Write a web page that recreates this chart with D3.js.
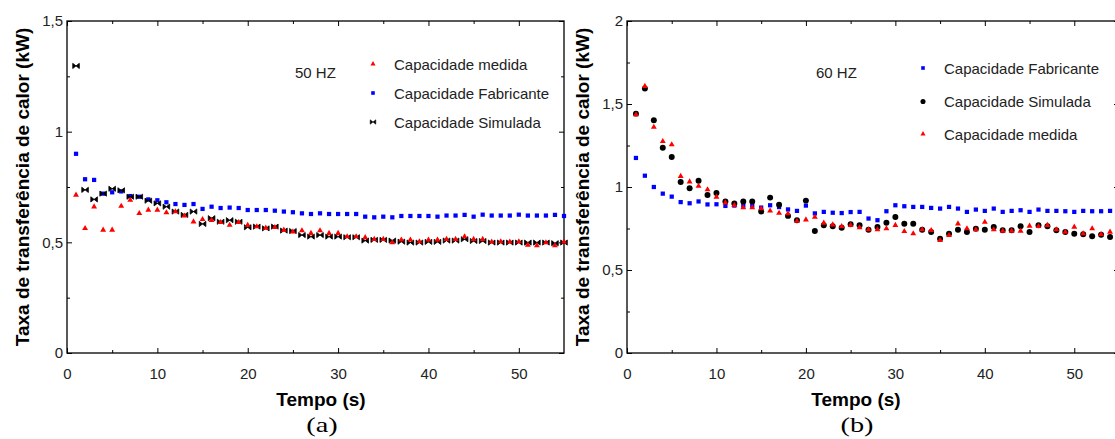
<!DOCTYPE html>
<html>
<head>
<meta charset="utf-8">
<script src="https://cdn.jsdelivr.net/npm/d3@7"></script>
<style>
  body { margin: 0; background: #fff; }
  svg { display: block; }
</style>
</head>
<body>
<svg id="chart" width="1115" height="439"></svg>
<script>
// Tempo (s)
const tempo = [1,2,3,4,5,6,7,8,9,10,11,12,13,14,15,16,17,18,19,20,
  21,22,23,24,25,26,27,28,29,30,31,32,33,34,35,36,37,38,39,40,
  41,42,43,44,45,46,47,48,49,50,51,52,53,54,55];

// 50 Hz (kW)
const medida50 = [0.714,0.563,0.661,0.556,0.556,0.664,0.691,0.631,0.646,0.646,
  0.634,0.639,0.620,0.593,0.604,0.600,0.590,0.578,0.590,0.578,
  0.571,0.565,0.568,0.556,0.548,0.553,0.541,0.553,0.541,0.541,
  0.526,0.526,0.522,0.514,0.514,0.499,0.511,0.511,0.503,0.511,
  0.511,0.514,0.514,0.526,0.514,0.514,0.502,0.503,0.502,0.503,
  0.488,0.485,0.499,0.485,0.502];
const fabricante50 = [0.900,0.785,0.782,0.720,0.726,0.730,0.709,0.706,0.694,0.690,
  0.681,0.673,0.669,0.673,0.651,0.661,0.655,0.657,0.655,0.646,
  0.646,0.646,0.643,0.639,0.636,0.631,0.628,0.631,0.628,0.628,
  0.628,0.628,0.616,0.613,0.616,0.613,0.619,0.619,0.619,0.619,
  0.616,0.621,0.621,0.624,0.616,0.625,0.621,0.621,0.621,0.625,
  0.621,0.621,0.621,0.624,0.619];
const simulada50 = [1.297,0.737,0.694,0.720,0.742,0.735,0.706,0.706,0.688,0.676,
  0.661,0.639,0.624,0.639,0.583,0.609,0.593,0.600,0.593,0.568,
  0.571,0.563,0.571,0.553,0.551,0.533,0.526,0.533,0.526,0.526,
  0.523,0.523,0.508,0.511,0.511,0.508,0.503,0.499,0.499,0.502,
  0.502,0.508,0.508,0.514,0.506,0.506,0.499,0.499,0.499,0.499,
  0.499,0.499,0.499,0.496,0.499];

// 60 Hz (kW)
const fabricante60 = [1.175,1.068,1.000,0.960,0.942,0.909,0.902,0.913,0.895,0.896,
  0.886,0.888,0.888,0.888,0.876,0.890,0.879,0.865,0.856,0.888,
  0.841,0.850,0.845,0.843,0.849,0.850,0.810,0.800,0.854,0.890,
  0.884,0.880,0.880,0.874,0.870,0.880,0.870,0.850,0.864,0.856,
  0.870,0.850,0.856,0.860,0.850,0.864,0.856,0.856,0.854,0.850,
  0.856,0.854,0.854,0.856];
const simulada60 = [1.442,1.593,1.402,1.237,1.181,1.030,0.992,1.038,0.952,0.964,
  0.912,0.900,0.912,0.912,0.852,0.936,0.893,0.826,0.800,0.918,
  0.735,0.770,0.763,0.755,0.775,0.770,0.743,0.759,0.785,0.819,
  0.779,0.779,0.743,0.729,0.689,0.719,0.743,0.729,0.749,0.743,
  0.759,0.739,0.739,0.763,0.729,0.770,0.763,0.739,0.729,0.719,
  0.715,0.703,0.713,0.699];
const medida60 = [1.436,1.607,1.361,1.275,1.255,1.065,1.032,1.005,0.984,0.940,
  0.905,0.890,0.876,0.876,0.870,0.856,0.843,0.840,0.795,0.803,
  0.819,0.783,0.773,0.763,0.770,0.755,0.743,0.743,0.749,0.770,
  0.733,0.719,0.743,0.739,0.679,0.709,0.779,0.749,0.743,0.789,
  0.743,0.735,0.735,0.735,0.765,0.763,0.770,0.743,0.729,0.759,
  0.719,0.749,0.715,0.729];

// Ticks
const xTicks = [0, 10, 20, 30, 40, 50];
const xMinorTicks = [5, 15, 25, 35, 45];
const yTicks50 = [0, 0.5, 1, 1.5];
const yMinor50 = [0.25, 0.75, 1.25];
const yTicks60 = [0, 0.5, 1, 1.5, 2];
const yMinor60 = [0.25, 0.75, 1.25, 1.75];

// Texts
const yTitle = "Taxa de transferência de calor (kW)";
const xTitle = "Tempo (s)";
const legend50 = ["Capacidade medida", "Capacidade Fabricante", "Capacidade Simulada"];
const legend60 = ["Capacidade Fabricante", "Capacidade Simulada", "Capacidade medida"];

const svg = d3.select("#chart");
const FONT = "Liberation Sans, Arial, sans-serif";
const fmt = d => String(d).replace(".", ",");

// marker shapes
const bowtie = "M-3.3,-2.6L-3.3,2.6L3.3,-2.6L3.3,2.6Z";
const markers = {
  medida:     { path: d3.symbol(d3.symbolTriangle, 15)(), fill: "#ff0000", stroke: "none" },
  fabricante: { path: d3.symbol(d3.symbolSquare, 18)(),   fill: "#0000ff", stroke: "none" },
  simulada50: { path: bowtie, fill: "#000", stroke: "#000" },
  simulada60: { path: d3.symbol(d3.symbolCircle, 28)(),   fill: "#000", stroke: "none" }
};

function drawPanel(cfg) {
  const x = d3.scaleLinear().domain([0, 55]).range([cfg.left, cfg.right]);
  const y = d3.scaleLinear().domain([0, cfg.yMax]).range([353, 21]);
  const g = svg.append("g");

  const styleAxis = sel => {
    sel.select(".domain").remove();
    sel.selectAll("line").attr("stroke", "#000").attr("stroke-width", 1);
    sel.selectAll("text").attr("font-family", FONT).attr("font-size", 15).attr("fill", "#222");
  };

  // bottom
  g.append("g").attr("transform", `translate(0,353)`)
    .call(d3.axisBottom(x).tickValues(xTicks).tickSize(-5).tickPadding(15).tickFormat(fmt))
    .call(styleAxis);
  g.append("g").attr("transform", `translate(0,353)`)
    .call(d3.axisBottom(x).tickValues(xMinorTicks).tickSize(-3).tickFormat(""))
    .call(styleAxis);
  // top
  g.append("g").attr("transform", `translate(0,21)`)
    .call(d3.axisTop(x).tickValues(xTicks).tickSize(-5).tickFormat(""))
    .call(styleAxis);
  g.append("g").attr("transform", `translate(0,21)`)
    .call(d3.axisTop(x).tickValues(xMinorTicks).tickSize(-3).tickFormat(""))
    .call(styleAxis);
  // left
  g.append("g").attr("transform", `translate(${cfg.left},0)`)
    .call(d3.axisLeft(y).tickValues(cfg.yTicks).tickSize(-5).tickPadding(4).tickFormat(fmt))
    .call(styleAxis);
  g.append("g").attr("transform", `translate(${cfg.left},0)`)
    .call(d3.axisLeft(y).tickValues(cfg.yMinor).tickSize(-3).tickFormat(""))
    .call(styleAxis);
  // right
  g.append("g").attr("transform", `translate(${cfg.right},0)`)
    .call(d3.axisRight(y).tickValues(cfg.yTicks).tickSize(-5).tickFormat(""))
    .call(styleAxis);
  g.append("g").attr("transform", `translate(${cfg.right},0)`)
    .call(d3.axisRight(y).tickValues(cfg.yMinor).tickSize(-3).tickFormat(""))
    .call(styleAxis);

  // frame
  g.append("rect")
    .attr("x", cfg.left).attr("y", 21)
    .attr("width", cfg.right - cfg.left).attr("height", 332)
    .attr("fill", "none").attr("stroke", "#000").attr("stroke-width", 1.3);

  // series
  cfg.series.forEach(s => {
    const m = markers[s.marker];
    g.append("g").selectAll("path")
      .data(s.values)
      .join("path")
      .attr("d", m.path)
      .attr("fill", m.fill)
      .attr("stroke", m.stroke)
      .attr("stroke-width", 0.8)
      .attr("transform", (v, i) => `translate(${x(tempo[i])},${y(v)})`);
  });

  // frequency tag
  g.append("text")
    .attr("x", cfg.tag.x).attr("y", 78)
    .attr("font-family", FONT).attr("font-size", 15).attr("fill", "#222")
    .text(cfg.tag.text);

  // legend
  cfg.legend.forEach((item, i) => {
    const ly = cfg.legendY[i];
    g.append("path")
      .attr("d", markers[item.marker].path)
      .attr("fill", markers[item.marker].fill)
      .attr("stroke", markers[item.marker].stroke)
      .attr("stroke-width", 0.6)
      .attr("transform", `translate(${cfg.legendX},${ly}) scale(0.85)`);
    g.append("text")
      .attr("x", cfg.legendX + 21).attr("y", ly + 5.5)
      .attr("font-family", FONT).attr("font-size", 15).attr("fill", "#222")
      .text(item.label);
  });

  // titles
  g.append("text")
    .attr("transform", `translate(${cfg.yTitleX},187) rotate(-90)`)
    .attr("text-anchor", "middle")
    .attr("font-family", FONT).attr("font-size", 19).attr("font-weight", "bold").attr("fill", "#000")
    .text(yTitle);
  g.append("text")
    .attr("x", cfg.xTitleX).attr("y", 406)
    .attr("text-anchor", "middle")
    .attr("font-family", FONT).attr("font-size", 19).attr("font-weight", "bold").attr("fill", "#000")
    .text(xTitle);
  g.append("text")
    .attr("transform", `translate(${cfg.xTitleX + 1},432) scale(1.35,1)`)
    .attr("text-anchor", "middle")
    .attr("font-family", "Liberation Serif, 'Times New Roman', serif").attr("font-size", 21).attr("fill", "#000")
    .text(cfg.caption);
}

drawPanel({
  left: 67, right: 564, yMax: 1.5,
  yTicks: yTicks50, yMinor: yMinor50,
  series: [
    { values: fabricante50, marker: "fabricante" },
    { values: simulada50, marker: "simulada50" },
    { values: medida50, marker: "medida" }
  ],
  tag: { x: 295, text: "50 HZ" },
  legendX: 373, legendY: [64, 93, 122],
  legend: [
    { label: legend50[0], marker: "medida" },
    { label: legend50[1], marker: "fabricante" },
    { label: legend50[2], marker: "simulada50" }
  ],
  yTitleX: 29, xTitleX: 321, caption: "(a)"
});

drawPanel({
  left: 627, right: 1119, yMax: 2,
  yTicks: yTicks60, yMinor: yMinor60,
  series: [
    { values: fabricante60, marker: "fabricante" },
    { values: simulada60, marker: "simulada60" },
    { values: medida60, marker: "medida" }
  ],
  tag: { x: 816, text: "60 HZ" },
  legendX: 923, legendY: [68, 101.5, 134],
  legend: [
    { label: legend60[0], marker: "fabricante" },
    { label: legend60[1], marker: "simulada60" },
    { label: legend60[2], marker: "medida" }
  ],
  yTitleX: 589, xTitleX: 856, caption: "(b)"
});
</script>
</body>
</html>
